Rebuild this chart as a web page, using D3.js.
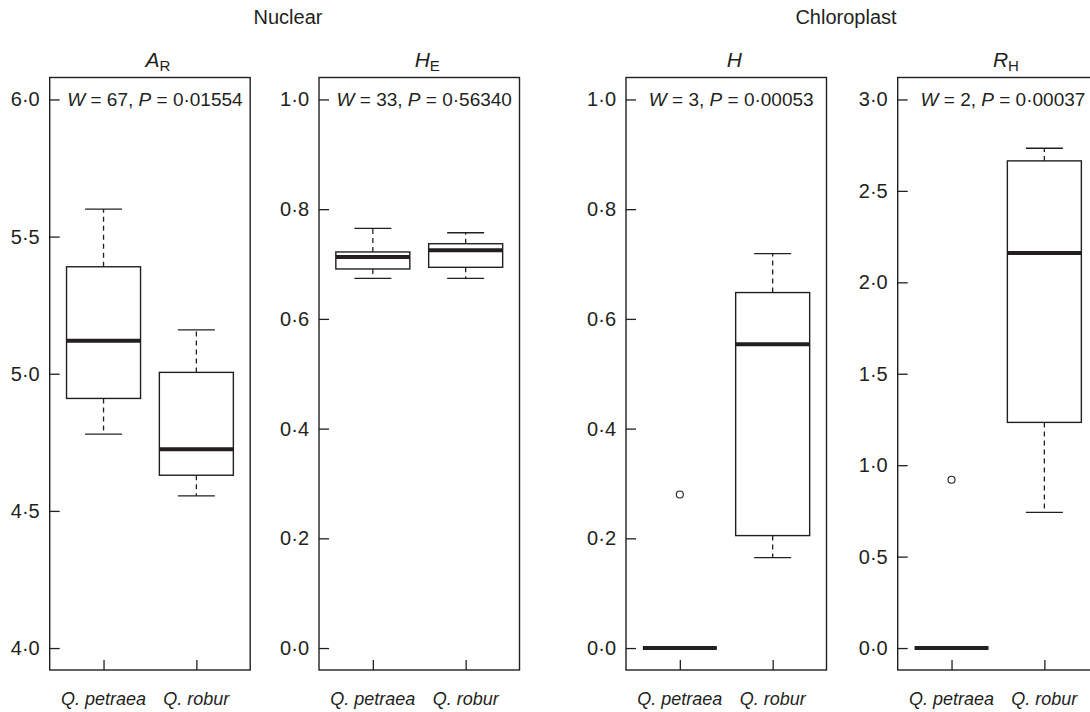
<!DOCTYPE html>
<html>
<head>
<meta charset="utf-8">
<script src="https://cdn.jsdelivr.net/npm/d3@7"></script>
<style>
  html, body { margin: 0; padding: 0; background: #fff; }
  svg { display: block; }
  text { font-family: "Liberation Sans", Arial, Helvetica, sans-serif; fill: #231f20; }
</style>
</head>
<body>
<svg id="chart" width="1090" height="712"></svg>
<script>
// ---------------- data ----------------
const categories = ["Q. petraea", "Q. robur"];
const groupLabels = ["Nuclear", "Chloroplast"];

// box stats per category: [lower whisker, Q1, median, Q3, upper whisker]
const AR_stats = [[4.78, 4.91, 5.12, 5.39, 5.60], [4.555, 4.63, 4.725, 5.005, 5.16]];
const AR_outliers = [[], []];
const AR_ticks = [4.0, 4.5, 5.0, 5.5, 6.0];

const HE_stats = [[0.674, 0.691, 0.713, 0.722, 0.765], [0.674, 0.694, 0.725, 0.737, 0.757]];
const HE_outliers = [[], []];
const HE_ticks = [0.0, 0.2, 0.4, 0.6, 0.8, 1.0];

const H_stats = [[0, 0, 0, 0, 0], [0.165, 0.205, 0.554, 0.648, 0.719]];
const H_outliers = [[0.28], []];
const H_ticks = [0.0, 0.2, 0.4, 0.6, 0.8, 1.0];

const RH_stats = [[0, 0, 0, 0, 0], [0.742, 1.234, 2.16, 2.664, 2.733]];
const RH_outliers = [[0.92], []];
const RH_ticks = [0.0, 0.5, 1.0, 1.5, 2.0, 2.5, 3.0];

const titles = [["A", "R"], ["H", "E"], ["H", ""], ["R", "H"]];
const W_values = ["67", "33", "3", "2"];
const P_values = ["0·01554", "0·56340", "0·00053", "0·00037"];
const yLimits = [[4, 6], [0, 1], [0, 1], [0, 3]];

// ---------------- layout ----------------
const panelLeft = [49.7, 319, 626, 897.7];
const panelW = 200.5;
const plotTop = 77.5, plotBottom = 670;
const boxHalf = 37, capHalf = 18.5;
const ink = "#231f20";

const panels = [
  { stats: AR_stats, outliers: AR_outliers, ticks: AR_ticks },
  { stats: HE_stats, outliers: HE_outliers, ticks: HE_ticks },
  { stats: H_stats, outliers: H_outliers, ticks: H_ticks },
  { stats: RH_stats, outliers: RH_outliers, ticks: RH_ticks }
];

const svg = d3.select("#chart");
svg.append("rect").attr("width", 1090).attr("height", 712).attr("fill", "#fff");

const fmt = d => d3.format(".1f")(d).replace(".", "·");

panels.forEach((p, i) => {
  const left = panelLeft[i];
  const [lo, hi] = yLimits[i];
  const ext = 0.04 * (hi - lo);
  const y = d3.scaleLinear().domain([lo - ext, hi + ext]).range([plotBottom, plotTop]);
  const x = d3.scaleLinear().domain([0.42, 2.58]).range([left, left + panelW]);
  const g = svg.append("g");

  // frame
  g.append("rect")
    .attr("x", left).attr("y", plotTop)
    .attr("width", panelW).attr("height", plotBottom - plotTop)
    .attr("fill", "none").attr("stroke", ink).attr("stroke-width", 1.4);

  // y axis (inward ticks)
  const yAxis = d3.axisRight(y).tickValues(p.ticks).tickSize(10).tickFormat("");
  const ya = g.append("g").attr("transform", `translate(${left},0)`).call(yAxis);
  ya.select(".domain").remove();
  ya.selectAll("line").attr("stroke", ink).attr("stroke-width", 1.3);
  g.selectAll(".ylab").data(p.ticks).enter().append("text")
    .attr("x", left - 10).attr("y", d => y(d))
    .attr("text-anchor", "end").attr("dominant-baseline", "central")
    .attr("font-size", 20).text(fmt);

  // x axis (inward ticks)
  const xa = g.append("g").attr("transform", `translate(0,${plotBottom})`)
    .call(d3.axisTop(x).tickValues([1, 2]).tickSize(10).tickFormat(""));
  xa.select(".domain").remove();
  xa.selectAll("line").attr("stroke", ink).attr("stroke-width", 1.3);
  g.selectAll(".xlab").data(categories).enter().append("text")
    .attr("x", (d, j) => x(j + 1)).attr("y", 705)
    .attr("text-anchor", "middle").attr("font-size", 18).attr("font-style", "italic")
    .text(d => d);

  // boxes
  p.stats.forEach((s, j) => {
    const cx = x(j + 1);
    const [wl, q1, med, q3, wu] = s;
    g.append("line").attr("x1", cx).attr("x2", cx).attr("y1", y(q3)).attr("y2", y(wu))
      .attr("stroke", ink).attr("stroke-width", 1.3).attr("stroke-dasharray", "5,4");
    g.append("line").attr("x1", cx).attr("x2", cx).attr("y1", y(q1)).attr("y2", y(wl))
      .attr("stroke", ink).attr("stroke-width", 1.3).attr("stroke-dasharray", "5,4");
    [wl, wu].forEach(v => {
      g.append("line").attr("x1", cx - capHalf).attr("x2", cx + capHalf)
        .attr("y1", y(v)).attr("y2", y(v))
        .attr("stroke", ink).attr("stroke-width", 1.3);
    });
    g.append("rect").attr("x", cx - boxHalf).attr("width", boxHalf * 2)
      .attr("y", y(q3)).attr("height", Math.max(0, y(q1) - y(q3)))
      .attr("fill", "#fff").attr("stroke", ink).attr("stroke-width", 1.4);
    g.append("line").attr("x1", cx - boxHalf).attr("x2", cx + boxHalf)
      .attr("y1", y(med)).attr("y2", y(med))
      .attr("stroke", ink).attr("stroke-width", 4);
    p.outliers[j].forEach(v => {
      g.append("circle").attr("cx", cx).attr("cy", y(v)).attr("r", 3.5)
        .attr("fill", "#fff").attr("stroke", ink).attr("stroke-width", 1.1);
    });
  });

  // stats text
  const st = g.append("text")
    .attr("x", left + panelW / 2 + 5).attr("y", y(hi))
    .attr("text-anchor", "middle").attr("dominant-baseline", "central")
    .attr("font-size", 19);
  st.append("tspan").attr("font-style", "italic").text("W");
  st.append("tspan").text(" = " + W_values[i] + ", ");
  st.append("tspan").attr("font-style", "italic").text("P");
  st.append("tspan").text(" = " + P_values[i]);

  // title
  const tt = g.append("text")
    .attr("x", left + panelW / 2 + 8).attr("y", 67)
    .attr("text-anchor", "middle").attr("font-size", 21);
  tt.append("tspan").attr("font-style", "italic").text(titles[i][0]);
  if (titles[i][1]) {
    tt.append("tspan").attr("font-size", 15).attr("dy", 4).text(titles[i][1]);
  }
});

// group labels
svg.append("text").attr("x", 288).attr("y", 24).attr("text-anchor", "middle")
  .attr("font-size", 20).text(groupLabels[0]);
svg.append("text").attr("x", 846).attr("y", 24).attr("text-anchor", "middle")
  .attr("font-size", 20).text(groupLabels[1]);
</script>
</body>
</html>
